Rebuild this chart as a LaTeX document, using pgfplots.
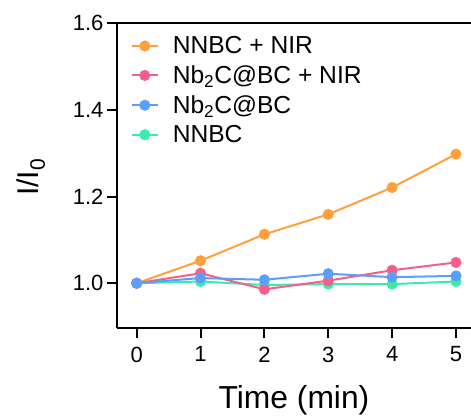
\documentclass[border=0pt]{standalone}
\usepackage{fontspec}
\setmainfont{Liberation Sans}
\usepackage{pgfplots}
\pgfplotsset{compat=1.18}
\definecolor{cOr}{RGB}{255,160,60}
\definecolor{cPk}{RGB}{245,95,140}
\definecolor{cBl}{RGB}{90,160,250}
\definecolor{cGr}{RGB}{60,235,170}
\begin{document}
\begin{tikzpicture}
\begin{axis}[
  scale only axis, width=354bp, height=305bp,
  xmin=-0.308, xmax=5.235, ymin=0.896, ymax=1.6,
  axis x line=box, axis y line=left,
  axis line style={-, line width=2.2bp, black},
  xtick={0,1,2,3,4,5}, ytick={1.0,1.2,1.4,1.6},
  xtick pos=left, ytick pos=left,
  tick align=outside, major tick length=10bp,
  tick style={line width=2bp, black},
  tick label style={font=\fontsize{22bp}{26bp}\selectfont},
  xticklabel style={yshift=-5bp},
  /pgf/number format/assume math mode=true,
  yticklabel style={/pgf/number format/.cd, fixed, fixed zerofill, precision=1},
  xlabel={Time (min)}, ylabel={I/I\textsubscript{0}},
  label style={font=\fontsize{31.8bp}{36bp}\selectfont},
  xlabel style={at={(axis description cs:0.5,-0.236)}, anchor=center},
  ylabel style={at={(axis description cs:-0.243,0.495)}, anchor=center, font=\fontsize{30bp}{36bp}\selectfont},
  legend style={at={(axis description cs:0.03,0.97)}, anchor=north west, draw=none, fill=none,
    font=\fontsize{24.6bp}{29bp}\selectfont, row sep=6.5bp, cells={anchor=west}},
  legend image code/.code={\draw[mark repeat=2,mark phase=2] plot coordinates {(0bp,0bp)(13bp,0bp)(26bp,0bp)};\path (38bp,0bp);},
  every axis plot/.append style={line width=2bp, mark=*, mark size=4.5bp, mark options={solid}},
]
\addlegendimage{cOr, line width=2bp, mark=*, mark size=4.5bp}
\addlegendentry{NNBC + NIR}
\addlegendimage{cPk, line width=2bp, mark=*, mark size=4.5bp}
\addlegendentry{Nb\textsubscript{2}C@BC + NIR}
\addlegendimage{cBl, line width=2bp, mark=*, mark size=4.5bp}
\addlegendentry{Nb\textsubscript{2}C@BC}
\addlegendimage{cGr, line width=2bp, mark=*, mark size=4.5bp}
\addlegendentry{NNBC}
\addplot[cGr, forget plot] coordinates {(0,1.000)(1,1.004)(2,0.996)(3,0.998)(4,0.998)(5,1.004)};
\addplot[cOr, forget plot] coordinates {(0,1.000)(1,1.052)(2,1.113)(3,1.159)(4,1.221)(5,1.298)};
\addplot[cPk, forget plot] coordinates {(0,1.000)(1,1.023)(2,0.986)(3,1.006)(4,1.030)(5,1.048)};
\addplot[cBl, forget plot] coordinates {(0,1.000)(1,1.012)(2,1.008)(3,1.022)(4,1.014)(5,1.017)};
\end{axis}
\pgfresetboundingbox
\path[use as bounding box] ([shift={(-117bp,-90.7bp)}]current axis.south west) rectangle ++(471bp,419bp);
\end{tikzpicture}
\end{document}
